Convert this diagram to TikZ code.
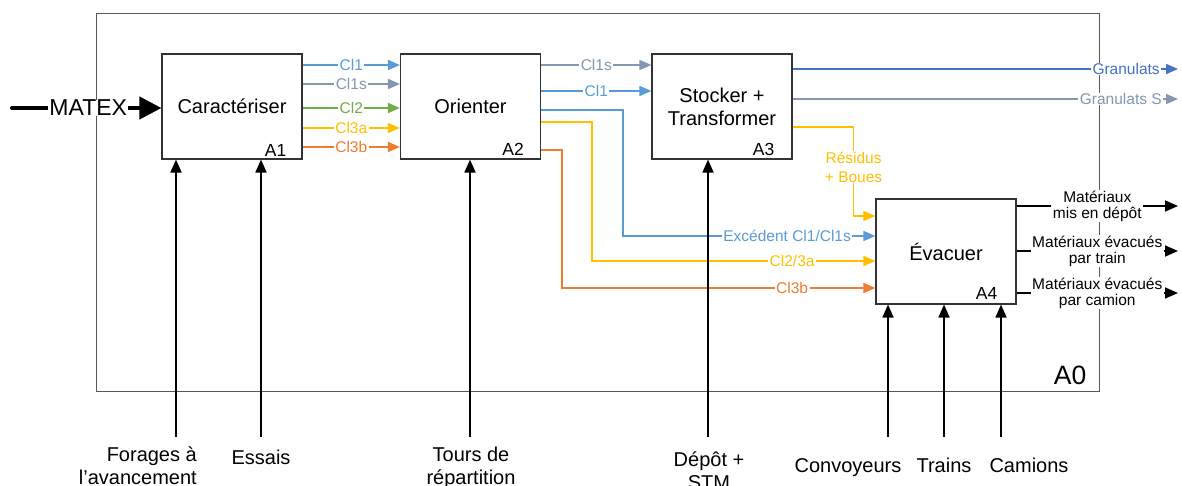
\documentclass[tikz,border=0pt]{standalone}
\usepackage{fontspec}
\setmainfont{Liberation Sans}
\usetikzlibrary{arrows.meta}

\definecolor{clBlue}{HTML}{5B9BD5}
\definecolor{clSlate}{HTML}{8497B0}
\definecolor{clGreen}{HTML}{70AD47}
\definecolor{clGold}{HTML}{FFC000}
\definecolor{clOrange}{HTML}{ED7D31}
\definecolor{clDeep}{HTML}{4472C4}
\definecolor{frameGray}{HTML}{595959}

\newcommand\fsz[2]{\fontsize{#1}{#2}\selectfont}

\tikzset{
  activity/.style={draw=black!80, line width=1.1pt, minimum width=140pt,
    minimum height=105pt, inner sep=0pt, font=\fsz{20}{23}, align=center},
  code/.style={font=\fsz{17.5}{20}, inner sep=0pt, anchor=base east},
  flow/.style={line width=1.6pt, -{Triangle[length=12pt,width=10pt]}},
  tag/.style={fill=white, inner xsep=1.5pt, inner ysep=0.5pt,
    font=\fsz{15.5}{16}, align=center},
  mech/.style={line width=1.8pt, black, -{Triangle[length=13pt,width=11pt]}},
  outflow/.style={line width=1.6pt, black, -{Triangle[length=13pt,width=11pt]}},
  resource/.style={font=\fsz{20}{23}, inner sep=0pt, align=center},
}

\begin{document}
\begin{tikzpicture}[x=1pt,y=-1pt]
\useasboundingbox (0,0) rectangle (1182,486);

% context frame A0
\node[draw=frameGray, line width=1pt, minimum width=1003pt, minimum height=377pt,
  inner sep=0pt] (a0) at (597.5,202.5) {};
\node[code, font=\fsz{26.5}{30}] (a0c) at ([xshift=-13pt,yshift=7pt]a0.south east) {A0};

% activities
\node[activity] (a1) at (232,106.5) {Caractériser};
\node[activity] (a2) at (470.5,106.5) {Orienter};
\node[activity] (a3) at (722,106.5) {Stocker +\\Transformer};
\node[activity] (a4) at (946,251.5) {Évacuer};

\node[code] (a1c) at ([xshift=-16pt,yshift=3pt]a1.south east) {A1};
\node[code] (a2c) at ([xshift=-17pt,yshift=4pt]a2.south east) {A2};
\node[code] (a3c) at ([xshift=-18pt,yshift=4pt]a3.south east) {A3};
\node[code] (a4c) at ([xshift=-19pt,yshift=5pt]a4.south east) {A4};

% input MATEX
\coordinate (src) at (12,108);
\draw[line width=4pt, line cap=round, -{Triangle[length=22pt,width=22pt]}]
  (src) -- node[fill=white, inner xsep=1pt, inner ysep=0pt, font=\fsz{23}{26}, pos=0.51] {MATEX}
  ([yshift=-1.5pt]a1.west);

% A1 -> A2
\draw[flow, clBlue]   ([yshift=41.5pt]a1.east) -- node[tag] {Cl1}  ([yshift=41.5pt]a2.west);
\draw[flow, clSlate]  ([yshift=22.5pt]a1.east) -- node[tag] {Cl1s} ([yshift=22.5pt]a2.west);
\draw[flow, clGreen]  ([yshift=-1.5pt]a1.east) -- node[tag] {Cl2}  ([yshift=-1.5pt]a2.west);
\draw[flow, clGold]   ([yshift=-21.5pt]a1.east) -- node[tag] {Cl3a} ([yshift=-21.5pt]a2.west);
\draw[flow, clOrange] ([yshift=-40.5pt]a1.east) -- node[tag] {Cl3b} ([yshift=-40.5pt]a2.west);

% A2 -> A3
\draw[flow, clSlate] ([yshift=41.5pt]a2.east) -- node[tag] {Cl1s} ([yshift=41.5pt]a3.west);
\draw[flow, clBlue]  ([yshift=15.5pt]a2.east) -- node[tag] {Cl1}  ([yshift=15.5pt]a3.west);

% A2 -> A4
\draw[flow, clBlue] ([yshift=-3.5pt]a2.east) -- ++(82,0)
  |- node[tag, pos=0.825] {Excédent Cl1/Cl1s} ([yshift=15.5pt]a4.west);
\draw[flow, clGold] ([yshift=-15.5pt]a2.east) -- ++(51,0)
  |- node[tag, pos=0.853] {Cl2/3a} ([yshift=-9.5pt]a4.west);
\draw[flow, clOrange] ([yshift=-43.5pt]a2.east) -- ++(21,0)
  |- node[tag, pos=0.867] {Cl3b} ([yshift=-36.5pt]a4.west);

% A3 outputs
\coordinate (g1) at (1178,69);
\coordinate (g2) at (1178,99);
\draw[flow, clDeep] ([yshift=37.5pt]a3.east) --
  node[tag, pos=1, anchor=east, xshift=-16pt] {Granulats} (g1);
\draw[flow, clSlate] ([yshift=7.5pt]a3.east) --
  node[tag, pos=1, anchor=east, xshift=-14pt] {Granulats S} (g2);
\draw[flow, clGold] ([yshift=-20.5pt]a3.east) -- ++(61,0)
  |- node[tag, pos=0.225, font=\fsz{15.5}{19}] {Résidus\\+ Boues} ([yshift=35.5pt]a4.west);

% A4 outputs
\coordinate (o1) at (1178,206);
\coordinate (o2) at (1178,251);
\coordinate (o3) at (1178,293);
\draw[outflow] ([yshift=45.5pt]a4.east) -- node[tag] {Matériaux\\mis en dépôt} (o1);
\draw[outflow] ([yshift=0.5pt]a4.east) -- node[tag] {Matériaux évacués\\par train} (o2);
\draw[outflow] ([yshift=-41.5pt]a4.east) -- node[tag] {Matériaux évacués\\par camion} (o3);

% mechanisms
\coordinate (m1) at (176,437);
\coordinate (m2) at (261,437);
\coordinate (m3) at (470,437);
\coordinate (m4) at (708,437);
\coordinate (m5) at (888,437);
\coordinate (m6) at (944,437);
\coordinate (m7) at (1001,437);
\draw[mech] (m1) -- (m1 |- a1.south);
\draw[mech] (m2) -- (m2 |- a1.south);
\draw[mech] (m3) -- (m3 |- a2.south);
\draw[mech] (m4) -- (m4 |- a3.south);
\draw[mech] (m5) -- (m5 |- a4.south);
\draw[mech] (m6) -- (m6 |- a4.south);
\draw[mech] (m7) -- (m7 |- a4.south);

\node[resource, align=right, anchor=east] (r1) at (197,466) {Forages à\\l’avancement};
\node[resource, anchor=base] (r2) at (261,464) {Essais};
\node[resource] (r3) at (471,468.3) {Tours de\\répartition};
\node[resource] (r4) at (709,471) {Dépôt +\\STM};
\node[resource, anchor=base] (r5) at (848,472) {Convoyeurs};
\node[resource, anchor=base] (r6) at (944,472) {Trains};
\node[resource, anchor=base] (r7) at (1029,472) {Camions};
\end{tikzpicture}
\end{document}
